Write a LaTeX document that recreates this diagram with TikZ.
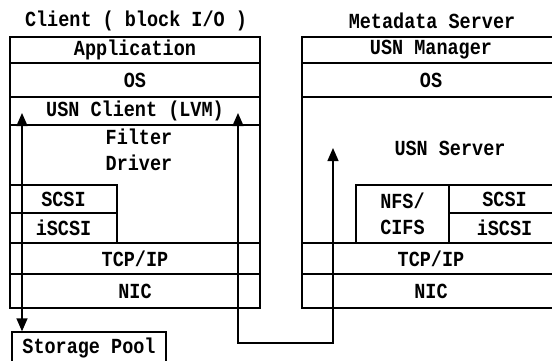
\documentclass[tikz,border=0pt]{standalone}
\usepackage{fontspec}
\setmonofont{Liberation Mono}[FakeStretch=0.86]
\usepackage{tikz}
\usetikzlibrary{arrows.meta,positioning,calc}
\tikzset{
  layer/.style={draw, rectangle, line width=1.3pt, inner sep=0pt, align=center, font=\ttfamily\bfseries\fontsize{21.5}{26}\selectfont},
  txt/.style={inner sep=0pt, align=center, font=\ttfamily\bfseries\fontsize{21.5}{26}\selectfont},
  biarrow/.style={{Triangle[length=13pt,width=11pt]}-{Triangle[length=13pt,width=11pt]}, line width=1.3pt}
}

\begin{document}
\begin{tikzpicture}[x=1pt,y=-1pt]
  \useasboundingbox (0,0) rectangle (552,361);
  \clip (0,0) rectangle (552,361);
  % client stack
  \node[txt] (cTitle) at (136,21) {Client ( block I/O )};
  \node[layer, minimum width=250, minimum height=26] (cApp) at (135,50) {Application};
  \node[layer, minimum width=250, minimum height=34] (cOS) at (135,80) {OS};
  \node[layer, minimum width=250, minimum height=28] (cUsn) at (135,111) {USN Client (LVM)};
  \node[layer, minimum width=250, minimum height=118] (cBody) at (135,184) {};
  \node[txt] (cFilter) at (139,150) {Filter\\Driver};
  \node[layer, minimum width=107, minimum height=28] (cScsi) at (63.5,199) {SCSI};
  \node[layer, minimum width=107, minimum height=30] (cIscsi) at (63.5,228) {iSCSI};
  \node[layer, minimum width=250, minimum height=31] (cTcp) at (135,258.5) {TCP/IP};
  \node[layer, minimum width=250, minimum height=34] (cNic) at (135,291) {NIC};
  % metadata server stack
  \node[txt] (sTitle) at (432,21) {Metadata Server};
  \node[layer, minimum width=258, minimum height=26] (sMgr) at (431,50) {USN Manager};
  \node[layer, minimum width=258, minimum height=34] (sOS) at (431,80) {OS};
  \node[layer, minimum width=258, minimum height=146] (sBody) at (431,170) {};
  \node[txt] (sUsn) at (450,148) {USN Server};
  \node[layer, minimum width=93, minimum height=58] (sNfs) at (402.5,214) {NFS/\\CIFS};
  \node[layer, minimum width=111, minimum height=28] (sScsi) at (504.5,199) {SCSI};
  \node[layer, minimum width=111, minimum height=30] (sIscsi) at (504.5,228) {iSCSI};
  \node[layer, minimum width=258, minimum height=31] (sTcp) at (431,258.5) {TCP/IP};
  \node[layer, minimum width=258, minimum height=34] (sNic) at (431,291) {NIC};
  % storage
  \node[layer, minimum width=154, minimum height=31] (pool) at (89,347.5) {Storage Pool};
  % data paths
  \coordinate (cBlk) at (22,113);
  \coordinate (cMeta) at (238,113);
  \coordinate (sMeta) at (333,148);
  \coordinate (low) at (0,343);
  \draw[biarrow] (cBlk) -- (cBlk |- pool.north);
  \draw[biarrow] (cMeta) -- (cMeta |- low) -- (sMeta |- low) -- (sMeta);
\end{tikzpicture}
\end{document}
